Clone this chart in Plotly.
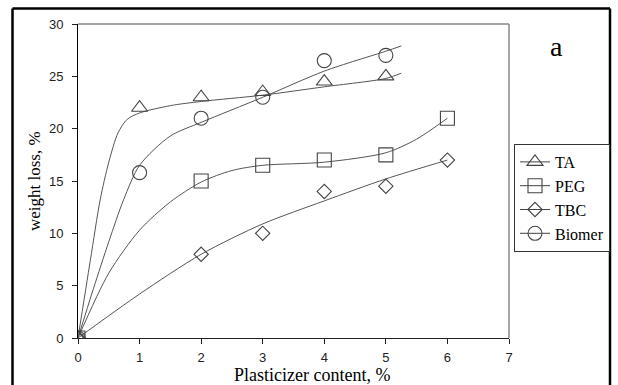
import plotly.graph_objects as go

# ---- data ----
x_ta = [0, 1, 2, 3, 4, 5]
y_ta = [0, 22, 23, 23.5, 24.5, 25]
x_peg = [0, 2, 3, 4, 5, 6]
y_peg = [0, 15, 16.5, 17, 17.5, 21]
x_tbc = [0, 2, 3, 4, 5, 6]
y_tbc = [0, 8, 10, 14, 14.5, 17]
x_bio = [0, 1, 2, 3, 4, 5]
y_bio = [0, 15.8, 21, 23, 26.5, 27]

# fitted trend curves
fx_ta = [0, 0.2, 0.36, 0.5, 0.65, 0.8, 1.0, 1.5, 2, 3, 4, 5, 5.25]
fy_ta = [0, 7.4, 13.2, 16.8, 19.6, 20.9, 21.5, 22.2, 22.6, 23.2, 24.0, 24.8, 25.3]
fx_bio = [0, 0.25, 0.5, 0.74, 1, 1.5, 2, 3, 4, 5, 5.25]
fy_bio = [0, 4.7, 9.2, 13.2, 16.5, 19.3, 20.6, 23.0, 25.5, 27.4, 27.9]
fx_peg = [0, 0.5, 1, 1.5, 2, 2.5, 3, 4, 5, 5.5, 6]
fy_peg = [0, 6.2, 10.3, 13.0, 14.9, 16.0, 16.5, 16.8, 17.7, 19.0, 21.0]
fx_tbc = [0, 1, 2, 3, 4, 5, 6]
fy_tbc = [0, 4.2, 8.0, 10.9, 13.1, 15.2, 17.0]

x_ticks = [0, 1, 2, 3, 4, 5, 6, 7]
y_ticks = [0, 5, 10, 15, 20, 25, 30]

series = [
    ("TA", x_ta, y_ta, fx_ta, fy_ta, "triangle-up-open", 14),
    ("PEG", x_peg, y_peg, fx_peg, fy_peg, "square-open", 14),
    ("TBC", x_tbc, y_tbc, fx_tbc, fy_tbc, "diamond-open", 11),
    ("Biomer", x_bio, y_bio, fx_bio, fy_bio, "circle-open", 14),
]

MC = "#444444"
SERIF = "Liberation Serif, Times New Roman, serif"
SANS = "Liberation Sans, Arial, sans-serif"


def gapped(vals):
    out = []
    for v in vals:
        out.extend([v, None])
    return out[:-1]


fig = go.Figure()
for name, xs, ys, fx, fy, sym, sz in series:
    fig.add_trace(go.Scatter(
        x=fx, y=fy, mode="lines", line=dict(color="#555555", width=1, shape="spline", smoothing=0.8),
        showlegend=False, legendgroup=name, hoverinfo="skip"))
for name, xs, ys, fx, fy, sym, sz in series:
    fig.add_trace(go.Scatter(
        x=gapped(xs), y=gapped(ys), mode="lines+markers", name=name, legendgroup=name,
        connectgaps=False,
        line=dict(color=MC, width=1),
        marker=dict(symbol=sym, size=sz, color=MC, line=dict(width=1.1, color=MC))))

L, R, T, B = 78, 109, 24, 47
W, H = 618, 385
pw, ph = W - L - R, H - T - B


def px(xp):
    return (xp - L) / pw


def py(yp):
    return (H - B - yp) / ph


shapes = [
    # plot border (top, right)
    dict(type="line", xref="paper", yref="paper", x0=0, x1=1, y0=1, y1=1, line=dict(color="#888888", width=1.5)),
    dict(type="line", xref="paper", yref="paper", x0=1, x1=1, y0=0, y1=1, line=dict(color="#888888", width=1.5)),
    # outer frame
    dict(type="line", xref="paper", yref="paper", x0=px(12.5), x1=px(12.5), y0=py(395), y1=py(8.5), line=dict(color="black", width=2.5)),
    dict(type="line", xref="paper", yref="paper", x0=px(12.5), x1=px(610), y0=py(8.5), y1=py(8.5), line=dict(color="black", width=2.5)),
    dict(type="line", xref="paper", yref="paper", x0=px(610), x1=px(610), y0=py(395), y1=py(8.5), line=dict(color="black", width=2.5)),
]

annotations = [
    dict(text="a", xref="paper", yref="paper", x=px(556), y=py(46), showarrow=False,
         font=dict(family=SERIF, size=28, color="black"), xanchor="center", yanchor="middle"),
    dict(text="Plasticizer content, %", xref="paper", yref="paper", x=px(312), y=py(375), showarrow=False,
         font=dict(family=SERIF, size=18, color="black"), xanchor="center", yanchor="middle"),
    dict(text="weight loss, %", xref="paper", yref="paper", x=px(34), y=0.5, showarrow=False, textangle=-90,
         font=dict(family=SERIF, size=17, color="black"), xanchor="center", yanchor="middle"),
]

fig.update_layout(
    width=W, height=H,
    margin=dict(l=L, r=R, t=T, b=B, pad=0, autoexpand=False),
    paper_bgcolor="white", plot_bgcolor="white",
    showlegend=True,
    legend=dict(x=px(514), y=py(144), xanchor="left", yanchor="top",
                bordercolor="#333333", borderwidth=1, bgcolor="white",
                font=dict(family=SERIF, size=16, color="black"),
                itemwidth=30, tracegroupgap=0),
    xaxis=dict(range=[0, 7], tickvals=x_ticks, ticktext=[str(v) for v in x_ticks],
               showgrid=False, zeroline=False, showline=True, linecolor="#222222", linewidth=1,
               ticks="outside", ticklen=5, tickcolor="#222222", ticklabelstandoff=2,
               tickfont=dict(family=SANS, size=13, color="#222222")),
    yaxis=dict(range=[0, 30], tickvals=y_ticks, ticktext=[str(v) for v in y_ticks],
               showgrid=False, zeroline=False, showline=True, linecolor="black", linewidth=1,
               ticks="outside", ticklen=5, tickcolor="#222222", ticklabelstandoff=6,
               tickfont=dict(family=SANS, size=13, color="#222222")),
    shapes=shapes, annotations=annotations,
)

fig.write_html("out.html")
